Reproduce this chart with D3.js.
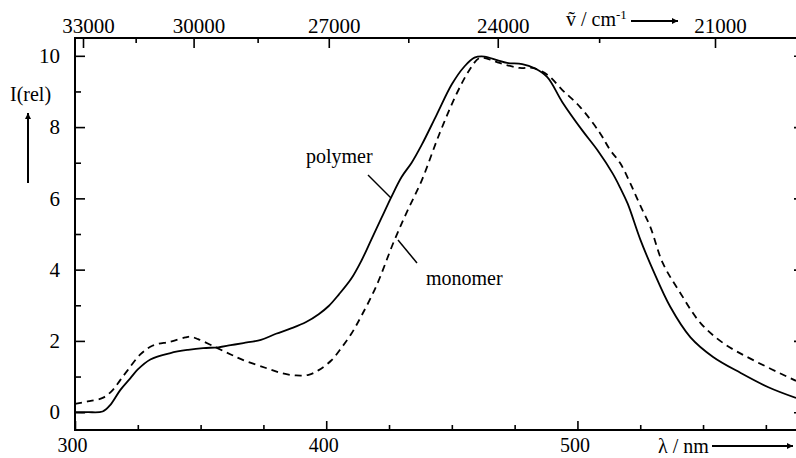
<!DOCTYPE html>
<html>
<head>
  <style>
    body { margin: 0; background: #fff; }
    text { font-family: "Liberation Serif", "Times New Roman", serif; fill: #000; }
  </style>
</head>
<body>
<svg width="796" height="458"></svg>
<script src="https://d3js.org/d3.v7.min.js"></script>
<script>
  // spectra: wavelength (nm) and relative intensity
  const polymerNm = [300, 305, 311, 314, 318, 322, 325, 330, 338, 345, 351, 357, 362, 367, 374, 380, 386, 392, 397, 401, 405, 410, 414, 418, 422, 426, 430, 434, 438, 444, 450, 455, 459, 463, 468, 472, 478, 483, 488, 494, 502, 508, 514, 517, 520, 525, 530, 537, 545, 554, 565, 576, 587];
  const polymerI  = [0.0, 0.0, 0.02, 0.2, 0.62, 0.95, 1.2, 1.48, 1.66, 1.75, 1.8, 1.82, 1.88, 1.94, 2.03, 2.2, 2.35, 2.53, 2.75, 2.98, 3.3, 3.75, 4.25, 4.85, 5.45, 6.05, 6.6, 7.0, 7.5, 8.35, 9.2, 9.7, 9.95, 9.98, 9.88, 9.8, 9.77, 9.65, 9.4, 8.7, 7.9, 7.35, 6.7, 6.3, 5.85, 4.85, 4.0, 2.95, 2.1, 1.55, 1.1, 0.7, 0.4];

  const monomerNm = [300, 305, 311, 315, 318, 321, 326, 331, 338, 344, 346, 349, 356, 362, 367, 376, 382, 388, 393, 397, 402, 406, 410, 414, 420, 427, 432, 438, 445, 452, 457, 461, 465, 469, 477, 482, 488, 494, 501, 509, 513, 517, 521, 525, 529, 534, 541, 549, 558, 570, 587];
  const monomerI  = [0.23, 0.3, 0.4, 0.62, 0.9, 1.18, 1.62, 1.87, 1.98, 2.1, 2.12, 2.05, 1.82, 1.62, 1.46, 1.24, 1.1, 1.03, 1.05, 1.18, 1.45, 1.8, 2.2, 2.7, 3.55, 4.8, 5.6, 6.5, 7.8, 8.95, 9.6, 9.94, 9.9, 9.8, 9.66, 9.66, 9.47, 9.04, 8.57, 7.83, 7.36, 6.99, 6.43, 5.8, 5.2, 4.18, 3.34, 2.5, 1.94, 1.46, 0.88];

  // tick values
  const nmMajor = [300, 400, 500];
  const nmMinor = [325, 350, 375, 425, 450, 475, 525, 550, 575];
  const nuMajor = [33000, 30000, 27000, 24000, 21000];
  const nuMinor = [31500, 28500, 25500, 22500];
  const iMajor = [0, 2, 4, 6, 8, 10];
  const iMinor = [1, 3, 5, 7, 9];

  const svg = d3.select("svg");

  const x = d3.scaleLinear().domain([300, 587]).range([75, 796]);
  const y = d3.scaleLinear().domain([-0.5, 10.5]).range([430, 38]);
  // top axis: wavenumber, placed by 1e7/nu
  const xt = d3.scaleLinear().domain([1e7 / 33000, 1e7 / 21000]).range([83, 715]);

  const font = "'Liberation Serif', 'Times New Roman', serif";

  function styleAxis(g) {
    g.select(".domain").remove();
    g.attr("font-family", font).attr("font-size", 21);
    g.selectAll("line").attr("stroke-width", 1.6);
  }

  // frame
  const frame = svg.append("g").attr("stroke", "#000").attr("stroke-width", 2);
  frame.append("line").attr("x1", x.range()[0]).attr("x2", x.range()[0]).attr("y1", y.range()[0]).attr("y2", y.range()[1]);
  frame.append("line").attr("x1", x.range()[0] - 1).attr("x2", x.range()[1]).attr("y1", y.range()[0]).attr("y2", y.range()[0]);
  frame.append("line").attr("x1", x.range()[0] - 1).attr("x2", x.range()[1]).attr("y1", y.range()[1]).attr("y2", y.range()[1]);

  // bottom axis
  svg.append("g").attr("transform", "translate(0," + y.range()[0] + ")")
    .call(d3.axisBottom(x).tickValues(nmMajor).tickSize(-9).tickPadding(8))
    .call(styleAxis)
    .attr("font-size", 20)
    .selectAll("text").attr("dx", -3);
  svg.append("g").attr("transform", "translate(0," + y.range()[0] + ")")
    .call(d3.axisBottom(x).tickValues(nmMinor).tickSize(-5).tickFormat(""))
    .call(styleAxis);

  // left axis
  svg.append("g").attr("transform", "translate(" + x.range()[0] + ",0)")
    .call(d3.axisLeft(y).tickValues(iMajor).tickSize(-10).tickPadding(15))
    .call(styleAxis);
  svg.append("g").attr("transform", "translate(" + x.range()[0] + ",0)")
    .call(d3.axisLeft(y).tickValues(iMinor).tickSize(-6).tickFormat(""))
    .call(styleAxis);

  // right edge ticks (frame itself is cut off)
  svg.append("g").attr("transform", "translate(797,0)")
    .call(d3.axisRight(y).tickValues(iMajor).tickSize(-3).tickFormat(""))
    .call(styleAxis);

  // top axis
  svg.append("g").attr("transform", "translate(0," + y.range()[1] + ")")
    .call(d3.axisTop(xt).tickValues(nuMajor.map(n => 1e7 / n)).tickSize(-10).tickPadding(5)
      .tickFormat(v => String(Math.round(1e7 / v))))
    .call(styleAxis)
    .selectAll("text").attr("dx", 5);
  svg.append("g").attr("transform", "translate(0," + y.range()[1] + ")")
    .call(d3.axisTop(xt).tickValues(nuMinor.map(n => 1e7 / n)).tickSize(-5).tickFormat(""))
    .call(styleAxis);

  // curves
  const line = d3.line()
    .x(d => x(d[0]))
    .y(d => y(d[1]))
    .curve(d3.curveCatmullRom);

  svg.append("path")
    .datum(polymerNm.map((v, i) => [v, polymerI[i]]))
    .attr("d", line)
    .attr("fill", "none")
    .attr("stroke", "#000")
    .attr("stroke-width", 1.8);

  svg.append("path")
    .datum(monomerNm.map((v, i) => [v, monomerI[i]]))
    .attr("d", line)
    .attr("fill", "none")
    .attr("stroke", "#000")
    .attr("stroke-width", 1.8)
    .attr("stroke-dasharray", "7,5");

  // labels with leader lines
  svg.append("text").attr("x", 306).attr("y", 163).attr("font-size", 20).text("polymer");
  svg.append("line").attr("x1", 368).attr("y1", 175).attr("x2", 391).attr("y2", 198)
    .attr("stroke", "#000").attr("stroke-width", 1.5);
  svg.append("text").attr("x", 426).attr("y", 285).attr("font-size", 20).text("monomer");
  svg.append("line").attr("x1", 398).attr("y1", 240).attr("x2", 417).attr("y2", 263)
    .attr("stroke", "#000").attr("stroke-width", 1.5);

  // arrow head
  svg.append("defs").append("marker")
    .attr("id", "arr")
    .attr("viewBox", "0 0 10 10")
    .attr("refX", 10).attr("refY", 5)
    .attr("markerWidth", 10).attr("markerHeight", 6)
    .attr("markerUnits", "userSpaceOnUse")
    .attr("orient", "auto")
    .append("path").attr("d", "M0,0L10,5L0,10Z").attr("fill", "#000");

  // y title
  svg.append("text").attr("x", 10).attr("y", 101).attr("font-size", 20).text("I(rel)");
  svg.append("line").attr("x1", 28).attr("y1", 183).attr("x2", 28).attr("y2", 113)
    .attr("stroke", "#000").attr("stroke-width", 2).attr("marker-end", "url(#arr)");

  // x title
  svg.append("text").attr("x", 658).attr("y", 453).attr("font-size", 20).text("\u03bb / nm");
  svg.append("line").attr("x1", 712).attr("y1", 446).attr("x2", 793).attr("y2", 446)
    .attr("stroke", "#000").attr("stroke-width", 2).attr("marker-end", "url(#arr)");

  // top title
  const nu = svg.append("text").attr("x", 566).attr("y", 26).attr("font-size", 20);
  nu.append("tspan").text("\u1e7d / cm");
  nu.append("tspan").attr("dy", -7).attr("font-size", 13).text("-1");
  svg.append("line").attr("x1", 631).attr("y1", 21).attr("x2", 678).attr("y2", 21)
    .attr("stroke", "#000").attr("stroke-width", 2).attr("marker-end", "url(#arr)");
</script>
</body>
</html>
